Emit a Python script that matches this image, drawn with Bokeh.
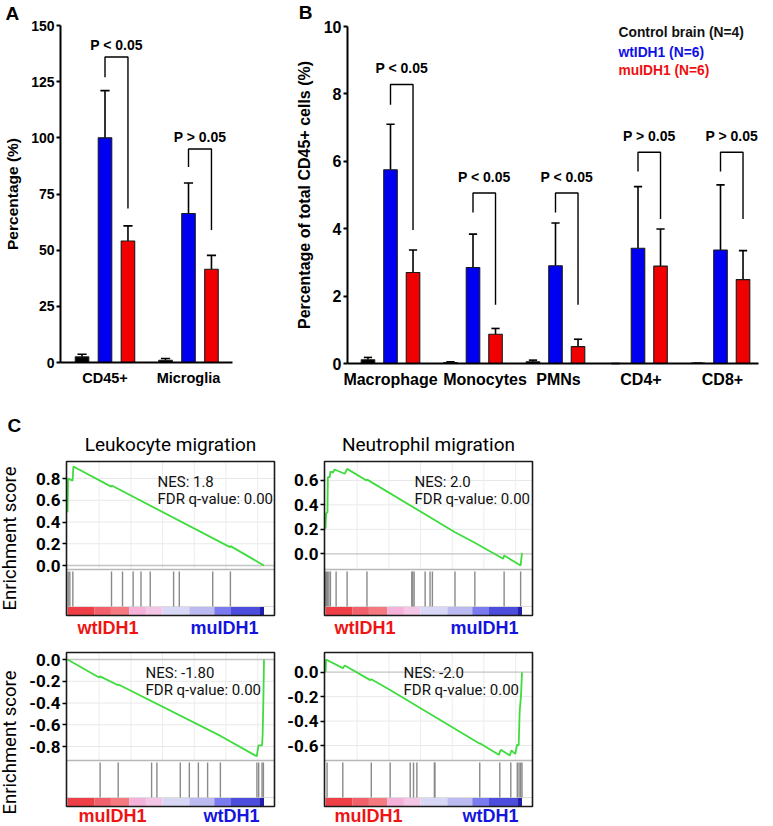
import math
from bokeh.plotting import figure
from bokeh.layouts import row, column
from bokeh.models import Label, FixedTicker, Range1d, PrintfTickFormatter, LinearAxis
from bokeh.core.properties import value
from bokeh.embed import file_html
from bokeh.resources import INLINE

FONT = "Liberation Sans"
GFONT = "Roboto"
BLUE = "#0000f0"
RED = "#f00000"

# ---------------- Panel A data ----------------
a_categories = ["CD45+", "Microglia"]
a_control = [2.5, 1.0]
a_control_err = [1.2, 0.8]
a_wt = [100.0, 66.3]
a_wt_err = [21.0, 13.6]
a_mu = [54.1, 41.5]
a_mu_err = [6.7, 6.2]
a_bracket_top = [136.0, 95.0]
a_bracket_left_end = [127.0, 87.0]
a_bracket_right_end = [68.5, 59.0]
a_pvalues = ["P < 0.05", "P > 0.05"]
a_yticks = [0, 25, 50, 75, 100, 125, 150]

# ---------------- Panel B data ----------------
b_categories = ["Macrophage", "Monocytes", "PMNs", "CD4+", "CD8+"]
b_control = [0.11, 0.03, 0.05, 0.0, 0.01]
b_control_err = [0.07, 0.02, 0.05, 0.0, 0.0]
b_wt = [5.75, 2.85, 2.90, 3.42, 3.37]
b_wt_err = [1.35, 0.99, 1.27, 1.83, 1.93]
b_mu = [2.70, 0.87, 0.50, 2.89, 2.49]
b_mu_err = [0.67, 0.17, 0.22, 1.10, 0.86]
b_bracket_top = [8.28, 5.06, 5.06, 6.27, 6.27]
b_bracket_left_end = [7.68, 4.48, 4.48, 5.70, 5.70]
b_bracket_right_end = [3.96, 1.74, 1.74, 4.29, 4.29]
b_pvalues = ["P < 0.05", "P < 0.05", "P < 0.05", "P > 0.05", "P > 0.05"]
b_yticks = [0, 2, 4, 6, 8, 10]
b_legend = ["Control brain (N=4)", "wtIDH1 (N=6)", "muIDH1 (N=6)"]

# ---------------- Panel C data (rank position in % of the ranked list) ----------------
tl_x = [0, 0.3, 1.4, 2.6, 3.0, 22.2, 22.5, 82.7, 83.0, 100]
tl_y = [0.49, 0.80, 0.79, 0.78, 0.91, 0.725, 0.735, 0.169, 0.178, 0.0]
tl_hits = [0.34, 1.19, 2.72, 22.4, 28.0, 33.4, 37.4, 42.1, 54.0, 56.9, 73.9, 82.9]

tr_x = [0, 0.3, 1.0, 1.2, 2.2, 2.5, 3.7, 4.6, 9.8, 11.0, 20.9, 21.2, 65.9, 76.0, 90.4, 90.9, 99.3, 100]
tr_y = [0.205, 0.33, 0.34, 0.627, 0.627, 0.674, 0.663, 0.69, 0.655, 0.695, 0.600, 0.607, 0.177, 0.09, -0.04, -0.014, -0.095, 0.008]
tr_hits = [0, 0.5, 1.0, 1.7, 2.5, 5.4, 11.0, 21.1, 43.9, 44.4, 45.1, 50.7, 53.2, 54.4, 65.9, 76.0, 90.9, 99.3]

bl_x = [0, 16.1, 16.6, 25.5, 26.2, 78.1, 96.3, 97.2, 99.0, 99.3, 99.7, 100]
bl_y = [0.0, -0.165, -0.155, -0.235, -0.232, -0.705, -0.89, -0.79, -0.79, -0.70, -0.35, 0.0]
bl_hits = [16.6, 25.8, 42.8, 45.5, 57.4, 62.0, 66.6, 71.3, 77.8, 96.4, 97.3, 99.0, 99.7]

br_x = [0, 0.3, 8.8, 9.8, 22.8, 23.3, 32.9, 77.7, 79.4, 88.2, 89.2, 93.8, 94.6, 96.6, 97.5, 98.3, 98.8, 99.5, 100]
br_y = [0.0, 0.104, 0.033, 0.055, -0.065, -0.058, -0.145, -0.578, -0.589, -0.676, -0.635, -0.682, -0.641, -0.668, -0.594, -0.60, -0.327, -0.19, 0.0]
br_hits = [0.8, 8.8, 23.3, 32.9, 43.1, 44.8, 46.5, 55.4, 55.7, 78.5, 88.7, 94.3, 97.6, 98.5, 99.3, 100]

rank_bar_edges = [0, 13.6, 22.1, 31.4, 39.9, 48.4, 62.0, 74.7, 83.2, 97.6, 100]
rank_bar_colors = ["#ef3f46", "#f2606c", "#f47a80", "#f4b2da", "#f3c6e6",
                   "#d8d8f6", "#bbbbf2", "#7b7bf0", "#4d4ddd", "#1e1eb0"]
es_grid_x = [16.1, 32.3, 48.4, 64.5, 80.6, 96.8]


def base_fig(cx0, cy0, cw, ch, xpx0, xs, ypx0, ys):
    """A figure whose frame fills its canvas; px -> data mapping is linear."""
    fx = lambda px: (px - xpx0) / xs
    fy = lambda py: (ypx0 - py) / ys
    p = figure(width=cw, height=ch, x_range=Range1d(fx(cx0), fx(cx0 + cw)),
               y_range=Range1d(fy(cy0 + ch), fy(cy0)), min_border=0,
               x_axis_type=None, y_axis_type=None,
               output_backend="svg", toolbar_location=None)
    p.outline_line_color = None
    p.background_fill_color = "white"
    p.border_fill_color = "white"
    sx = lambda px: px - cx0
    sy = lambda py: cy0 + ch - py
    return p, fx, fy, sx, sy


def bar_axes(p, xloc, xb, ybounds, yticks, ylabel, ylabel_px, ytick_px, xlabels, xlabel_px,
             xtick_pos, ylab_standoff):
    yax = LinearAxis(fixed_location=xloc, bounds=ybounds, ticker=FixedTicker(ticks=yticks))
    xax = LinearAxis(fixed_location=0, bounds=xb, ticker=FixedTicker(ticks=xtick_pos))
    xax.major_label_overrides = {t: c for t, c in zip(xtick_pos, xlabels)}
    for ax in (xax, yax):
        ax.axis_line_width = 2
        ax.axis_line_color = "black"
        ax.major_tick_line_width = 2
        ax.major_tick_line_color = "black"
        ax.minor_tick_line_color = None
        ax.major_label_text_font = FONT
        ax.major_label_text_font_style = "bold"
        ax.major_label_text_color = "black"
        ax.axis_label_text_font = FONT
        ax.axis_label_text_font_style = "bold"
        ax.axis_label_text_color = "black"
    yax.major_tick_out = 4
    yax.major_tick_in = 0
    yax.major_label_standoff = 2
    yax.major_label_text_font_size = ytick_px
    yax.axis_label = ylabel
    yax.axis_label_text_font_size = ylabel_px
    yax.axis_label_standoff = ylab_standoff
    xax.major_tick_out = 0
    xax.major_tick_in = 0
    xax.major_label_text_font_size = xlabel_px
    xax.major_label_standoff = 7
    p.add_layout(yax, "left")
    p.add_layout(xax, "below")


def draw_groups(p, cats, series, errs, colors, off, bw, cap):
    n = len(cats)
    for k, (vals, ers, col) in enumerate(zip(series, errs, colors)):
        xs = [i + (k - 1) * off for i in range(n)]
        tops = [v + e for v, e in zip(vals, ers)]
        p.segment(x0=xs, y0=vals, x1=xs, y1=tops, line_color="black", line_width=1.6)
        p.segment(x0=[x - cap for x in xs], y0=tops, x1=[x + cap for x in xs], y1=tops,
                  line_color="black", line_width=1.6)
        p.vbar(x=xs, top=vals, bottom=0, width=bw, fill_color=col, line_color="#1a1a1a", line_width=1.1)


def draw_brackets(p, cats, top, lend, rend, ptexts, off, yoff):
    n = len(cats)
    xl = [i for i in range(n)]
    xr = [i + off for i in range(n)]
    xs = [[a, a, b, b] for a, b in zip(xl, xr)]
    ys = [[l, t, t, r] for l, t, r in zip(lend, top, rend)]
    p.multi_line(xs=xs, ys=ys, line_color="black", line_width=1.4)
    p.text(x=[(a + b) / 2 for a, b in zip(xl, xr)], y=top, text=ptexts, y_offset=yoff,
           text_align="center", text_baseline="middle", text_font=value(FONT),
           text_font_style="bold", text_font_size="14px", text_color="black")


def letter(p, sx, sy, txt, px, py):
    p.add_layout(Label(x=sx(px), y=sy(py), x_units="screen", y_units="screen", text=txt,
                       text_font=FONT, text_font_style="bold", text_font_size="19px",
                       text_baseline="middle", text_align="left", text_color="black"))


# ---------------- Panel A ----------------
pa, fxa, fya, sxa, sya = base_fig(0, 0, 240, 400, 104.5, 83.5, 362, 337 / 150)
bar_axes(pa, fxa(60), (fxa(60), fxa(232)), (0, 150), a_yticks, "Percentage (%)", "15.5px",
         "14px", a_categories, "14.5px", list(range(len(a_categories))), 7)
draw_groups(pa, a_categories, [a_control, a_wt, a_mu], [a_control_err, a_wt_err, a_mu_err],
            ["black", BLUE, RED], 0.275, 0.162, 0.055)
draw_brackets(pa, a_categories, a_bracket_top, a_bracket_left_end, a_bracket_right_end,
              a_pvalues, 0.275, -12)
letter(pa, sxa, sya, "A", 5, 12.5)

# ---------------- Panel B ----------------
pb, fxb, fyb, sxb, syb = base_fig(240, 0, 533, 400, 390, 82.5, 363, 33.7)
b_label_nudge_px = [0, 12, 3, 3, 2]
b_label_pos = [i + d / 82.5 for i, d in enumerate(b_label_nudge_px)]
bar_axes(pb, fxb(347), (fxb(347), fxb(758)), (0, 10), b_yticks,
         "Percentage of total CD45+ cells (%)", "16px", "16px", b_categories, "16px",
         b_label_pos, 8)
draw_groups(pb, b_categories, [b_control, b_wt, b_mu], [b_control_err, b_wt_err, b_mu_err],
            ["black", BLUE, RED], 0.273, 0.164, 0.05)
draw_brackets(pb, b_categories, b_bracket_top, b_bracket_left_end, b_bracket_right_end,
              b_pvalues, 0.273, -16)
letter(pb, sxb, syb, "B", 298.3, 11.7)
for txt, col, cy in zip(b_legend, ["#111111", "#1010e6", "#ee1010"], [32, 52, 70]):
    pb.add_layout(Label(x=sxb(618), y=syb(cy), x_units="screen", y_units="screen", text=txt,
                        text_font=FONT, text_font_style="bold", text_font_size="13.8px",
                        text_color=col, text_baseline="middle", text_align="left"))

# ---------------- Panel C ----------------
BOX_W, BOX_H, ES_H = 208, 154, 108
WT_RED = "#ee1515"
MU_BLUE = "#1515dd"


def gsea(canvas, bl, bt, es0_px, es_scale, cx, cy, hits, ticks, nes, fdr, nes_px,
         left_lab, left_px, right_lab, right_px, lab_cy,
         title=None, title_px=None, ylabel_py=None, letter_px=None):
    cx0, cy0, cw, ch = canvas
    p, fx, fy, sx, sy = base_fig(cx0, cy0, cw, ch, bl + 1, 1.965, es0_px, es_scale)
    left, right = fx(bl), fx(bl + BOX_W)
    top, bottom = fy(bt), fy(bt + BOX_H)
    sep = fy(bt + ES_H)
    hit_top, hit_bot = fy(bt + ES_H + 2), fy(bt + ES_H + 37)
    bar_top, bar_bot = fy(bt + ES_H + 37.5), fy(bt + BOX_H - 0.5)

    # grid inside the enrichment-score area
    gy = [t for t in ticks if t != 0]
    p.segment(x0=[left] * len(gy), x1=[right] * len(gy), y0=gy, y1=gy, line_color="#e8e8e8", line_width=1)
    p.segment(x0=es_grid_x, x1=es_grid_x, y0=[sep] * len(es_grid_x), y1=[top] * len(es_grid_x),
              line_color="#ececec", line_width=1)
    p.segment(x0=[left], x1=[right], y0=[0], y1=[0], line_color="#c4c4c4", line_width=1.3)
    p.segment(x0=[left], x1=[right], y0=[sep], y1=[sep], line_color="#b8b8b8", line_width=1.3)
    p.segment(x0=[left], x1=[right], y0=[hit_bot], y1=[hit_bot], line_color="#dddddd", line_width=1)
    # gene-set hits
    p.segment(x0=hits, x1=hits, y0=[hit_bot] * len(hits), y1=[hit_top] * len(hits),
              line_color="#8a8a8a", line_width=1.4)
    # ranked-list colour bar
    p.quad(left=rank_bar_edges[:-1], right=rank_bar_edges[1:], bottom=bar_bot, top=bar_top,
           fill_color=rank_bar_colors, line_color=None)
    # running enrichment score
    p.line(cx, cy, line_color="#3edc3e", line_width=1.8)
    # box
    p.quad(left=[left], right=[right], bottom=[bottom], top=[top], fill_color=None,
           line_color="#1a1a1a", line_width=1.6)

    yax = LinearAxis(fixed_location=left, bounds=(bottom, top), ticker=FixedTicker(ticks=ticks),
                     formatter=PrintfTickFormatter(format="%.1f"))
    yax.axis_line_color = None
    yax.major_tick_out = 4
    yax.major_tick_in = 0
    yax.major_tick_line_color = "black"
    yax.major_tick_line_width = 1.3
    yax.minor_tick_line_color = None
    yax.major_label_standoff = 2
    yax.major_label_text_font = GFONT
    yax.major_label_text_font_style = "bold"
    yax.major_label_text_font_size = "17px"
    yax.major_label_text_color = "black"
    p.add_layout(yax, "left")

    for txt, (px, py) in ((nes, nes_px), (fdr, (nes_px[0], nes_px[1] + 17))):
        p.add_layout(Label(x=sx(px), y=sy(py), x_units="screen", y_units="screen", text=txt,
                           text_font=GFONT, text_font_size="15px", text_baseline="middle",
                           text_align="left", text_color="#111111"))
    p.add_layout(Label(x=sx(left_px), y=sy(lab_cy), x_units="screen", y_units="screen",
                       text=left_lab, text_font=FONT, text_font_style="bold", text_font_size="18px",
                       text_baseline="middle", text_align="left", text_color=WT_RED))
    p.add_layout(Label(x=sx(right_px), y=sy(lab_cy), x_units="screen", y_units="screen",
                       text=right_lab, text_font=FONT, text_font_style="bold", text_font_size="18px",
                       text_baseline="middle", text_align="right", text_color=MU_BLUE))
    if title:
        p.add_layout(Label(x=sx(title_px[0]), y=sy(title_px[1]), x_units="screen", y_units="screen",
                           text=title, text_font=GFONT, text_font_size="19px",
                           text_baseline="middle", text_align="center", text_color="black"))
    if ylabel_py is not None:
        p.add_layout(Label(x=sx(9.5), y=sy(ylabel_py), x_units="screen", y_units="screen",
                           text="Enrichment score", angle=math.pi / 2, text_font=GFONT,
                           text_font_size="18.5px", text_baseline="middle", text_align="center",
                           text_color="black"))
    if letter_px:
        letter(p, sx, sy, "C", letter_px[0], letter_px[1])
    return p


LEFT_W = 280
c_tl = gsea((0, 400, LEFT_W, 240), 66, 461, 565, 108.75, tl_x, tl_y, tl_hits, [0, 0.2, 0.4, 0.6, 0.8],
            "NES: 1.8", "FDR q-value: 0.00", (157, 481), "wtIDH1", 77, "muIDH1", 258, 627.5,
            title="Leukocyte migration", title_px=(170, 444), ylabel_py=538, letter_px=(7, 425))
c_tr = gsea((LEFT_W, 400, 773 - LEFT_W, 240), 324, 461, 553.3, 122.2, tr_x, tr_y, tr_hits, [0, 0.2, 0.4, 0.6],
            "NES: 2.0", "FDR q-value: 0.00", (414, 481), "wtIDH1", 334, "muIDH1", 518, 627.5,
            title="Neutrophil migration", title_px=(428, 444))
c_bl = gsea((0, 640, LEFT_W, 186), 66, 652, 659, 108.75, bl_x, bl_y, bl_hits, [0, -0.2, -0.4, -0.6, -0.8],
            "NES: -1.80", "FDR q-value: 0.00", (145, 672), "muIDH1", 78, "wtDH1", 259, 815.5,
            ylabel_py=742)
c_br = gsea((LEFT_W, 640, 773 - LEFT_W, 186), 324, 652, 671.7, 122.2, br_x, br_y, br_hits, [0, -0.2, -0.4, -0.6],
            "NES: -2.0", "FDR q-value: 0.00", (403, 672), "muIDH1", 334, "wtDH1", 518, 815.5)

layout = column(row(pa, pb), row(c_tl, c_tr), row(c_bl, c_br))
open("out.html", "w").write(file_html(layout, INLINE))
